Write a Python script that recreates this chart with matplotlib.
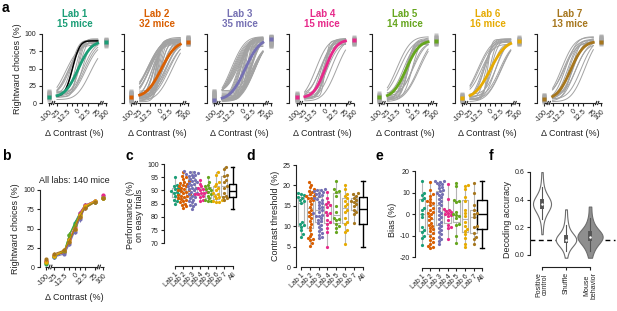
import numpy as np
import matplotlib
matplotlib.use('Agg')
import matplotlib.pyplot as plt
from math import erf

plt.rcParams['font.family'] = ['Liberation Sans', 'DejaVu Sans']
plt.rcParams['axes.linewidth'] = 0.8
plt.rcParams['xtick.major.width'] = 0.8
plt.rcParams['ytick.major.width'] = 0.8
plt.rcParams['xtick.major.size'] = 2.5
plt.rcParams['ytick.major.size'] = 2.5
plt.rcParams['xtick.labelsize'] = 5
plt.rcParams['ytick.labelsize'] = 5
plt.rcParams['axes.labelsize'] = 6.5
plt.rcParams['xtick.major.pad'] = 1.2
plt.rcParams['ytick.major.pad'] = 1.2
plt.rcParams['axes.unicode_minus'] = False
TXT = '#222222'
for k in ['text.color', 'axes.labelcolor', 'xtick.color', 'ytick.color', 'axes.edgecolor']:
    plt.rcParams[k] = TXT

# ---------------- data ----------------
lab_names = ['Lab 1', 'Lab 2', 'Lab 3', 'Lab 4', 'Lab 5', 'Lab 6', 'Lab 7']
n_mice = [15, 32, 35, 15, 14, 16, 13]
lab_colors = ['#1b9e77', '#d95f02', '#7570b3', '#e7298a', '#66a61e', '#e6ab02', '#a6761d']

# contrast threshold (%) per mouse (panel d, also slope of curves in a)
thr_lab1 = [10.2, 18.2, 18.0, 17.6, 17.2, 17.0, 16.5, 16.2, 15.8, 11.0, 10.5, 9.8, 9.0, 8.0, 7.3]
thr_lab2 = [20.8, 20.2, 19.5, 19.0, 18.7, 18.3, 18.0, 17.8, 17.5, 17.3, 17.0, 16.8, 16.5, 16.2, 15.5, 14.8,
            14.0, 13.5, 13.0, 12.5, 12.0, 11.3, 10.5, 9.8, 9.0, 8.2, 7.5, 7.0, 6.8, 6.5, 5.8, 5.2]
thr_lab3 = [19.0, 18.9, 18.8, 18.6, 18.4, 18.2, 18.0, 17.7, 17.4, 17.0, 16.7, 16.4, 16.0, 15.6, 15.2, 14.8,
            14.4, 14.0, 13.6, 13.2, 12.8, 12.5, 12.0, 11.6, 11.2, 10.8, 10.4, 9.9, 9.4, 8.8, 8.3, 7.9, 7.4, 7.0, 12.6]
thr_lab4 = [18.4, 17.0, 16.0, 15.5, 15.3, 14.8, 13.5, 13.2, 12.8, 11.5, 11.0, 10.5, 9.5, 8.5, 5.0]
thr_lab5 = [21.2, 19.0, 18.6, 18.5, 17.5, 15.0, 13.5, 12.0, 11.8, 11.5, 10.5, 10.0, 9.5, 8.6]
thr_lab6 = [20.0, 19.0, 18.0, 17.5, 16.8, 16.2, 15.5, 15.0, 14.0, 13.5, 12.0, 11.0, 10.5, 9.0, 8.5, 5.6]
thr_lab7 = [18.2, 17.8, 17.5, 17.0, 16.5, 16.2, 16.0, 15.5, 15.0, 14.0, 13.5, 13.0, 10.8]

# bias (%) per mouse (panel e)
bias_lab1 = [-6.0, 15.5, -14.5, 10.0, -11.0, 9.0, -10.0, 7.5, -8.5, 6.5, -7.5, 3.0, -1.5, 2.0, 0.0]
bias_lab2 = [15.0, -16.0, 11.0, -15.5, 9.5, -15.0, 8.5, -14.0, 7.0, -13.0, 6.0, -12.0, 5.5, -11.0, 5.0, -10.0,
             4.0, -9.0, 3.0, -8.0, 2.0, -7.0, 1.0, -6.5, 0.5, -5.5, 0.0, -5.0, -1.0, -4.0, -2.0, -3.0]
bias_lab3 = [15.5, -14.0, 15.2, -12.5, 15.0, -11.5, 14.5, -10.5, 14.0, -9.5, 13.5, -8.5, 12.5, -7.5, 12.0, -6.5,
             11.0, -5.5, 10.5, -4.5, 10.0, -3.5, 9.5, -2.5, 9.0, -1.5, 8.0, -0.5, 7.0, 0.5, 6.0, 1.5, 5.0, 3.0, 4.0]
bias_lab4 = [14.0, -11.5, 7.0, -6.5, 2.5, -6.0, 2.0, -5.0, 1.5, -3.0, 1.0, -1.0, 0.5, -0.5, 0.0]
bias_lab5 = [14.5, -13.5, 13.0, -10.0, 6.5, -5.0, 6.0, -4.5, 5.5, -2.0, 1.0, -1.0, 0.0, -0.5]
bias_lab6 = [13.5, -15.5, 13.0, -14.0, 11.5, -11.0, 8.0, -9.5, 6.0, -8.0, 2.0, -7.0, 0.5, -5.5, -1.0, -3.5]
bias_lab7 = [14.5, -14.0, 10.0, -11.5, 4.0, -10.5, 2.0, -9.0, 0.5, -6.0, 0.0, -5.5, -1.5]

# rightward choices (%) at -100% and +100% contrast per mouse
low_lab1 = [10, 5, 7, 8, 9, 10, 11, 12, 12, 13, 14, 15, 16, 17, 9]
low_lab2 = [3, 5, 6, 8, 10, 12, 14, 16, 4, 7, 9, 11, 13, 15, 17, 6, 8, 10, 12, 5, 7, 9, 11, 13, 2, 4, 6, 8, 10, 12, 14, 9]
low_lab3 = [2, 3, 4, 5, 6, 7, 8, 9, 10, 11, 12, 13, 14, 15, 16, 17, 18, 3, 4, 5, 6, 7, 8, 9, 10, 11, 4, 5, 6, 7, 8, 5, 6, 7, 5]
low_lab4 = [3, 5, 7, 9, 11, 13, 14, 4, 6, 8, 10, 12, 6, 8, 9]
low_lab5 = [2, 4, 6, 8, 10, 12, 15, 3, 5, 7, 9, 11, 6, 8]
low_lab6 = [2, 4, 6, 8, 10, 12, 13, 3, 5, 7, 9, 11, 6, 8, 7, 5]
low_lab7 = [2, 4, 6, 8, 10, 12, 3, 5, 7, 9, 11, 5, 6]
high_lab1 = [90, 82, 84, 86, 87, 88, 88, 89, 89, 90, 91, 92, 92, 93, 90]
high_lab2 = [95, 93, 91, 89, 87, 85, 94, 92, 90, 88, 86, 95, 93, 91, 89, 87, 94, 92, 90, 88, 86, 93, 91, 89, 87, 92, 90, 88, 91, 89, 90, 90]
high_lab3 = [97, 96, 95, 94, 93, 92, 91, 90, 89, 88, 87, 86, 85, 84, 83, 82, 96, 95, 94, 93, 92, 91, 90, 89, 88, 95, 94, 93, 92, 91, 94, 93, 92, 93, 93]
high_lab4 = [95, 93, 91, 89, 87, 85, 94, 92, 90, 88, 86, 93, 91, 89, 90]
high_lab5 = [98, 96, 94, 92, 90, 88, 86, 85, 95, 93, 91, 89, 87, 90]
high_lab6 = [95, 93, 91, 89, 87, 85, 94, 92, 90, 88, 86, 93, 91, 89, 90, 92]
high_lab7 = [97, 95, 93, 91, 89, 87, 85, 96, 94, 92, 90, 88, 91]

# lab-level (pooled) fit parameters: bias, threshold, low, high
labfit_bias = [1.0, 1.5, 3.0, 0.0, -2.0, 0.0, -3.0]
labfit_thr = [18.0, 20.0, 20.0, 16.0, 18.0, 21.0, 18.0]
labfit_low = [9, 9, 5, 8, 8, 7, 6]
labfit_high = [89, 89, 93, 91, 90, 90, 89]

# performance on easy trials (%) per mouse (panel c)
perf_lab1 = [95.0, 92.0, 91.5, 91.0, 90.5, 90.0, 89.8, 89.5, 89.0, 88.5, 88.0, 87.0, 86.5, 86.0, 85.0]
perf_lab2 = [97.0, 95.5, 95.0, 94.5, 93.5, 93.0, 92.8, 92.5, 92.0, 91.5, 91.0, 90.5, 90.0, 89.8, 89.5, 89.0,
             88.5, 88.2, 88.0, 87.5, 87.0, 86.8, 86.5, 86.0, 85.5, 85.0, 84.5, 84.0, 83.5, 91.8, 90.2, 87.8]
perf_lab3 = [97.2, 97.0, 96.8, 96.5, 96.3, 96.0, 95.8, 95.5, 95.0, 94.5, 94.0, 93.5, 93.0, 92.5, 92.0, 91.5,
             91.0, 90.5, 90.0, 89.5, 89.0, 88.5, 88.0, 87.5, 87.0, 86.5, 86.0, 85.5, 85.0, 84.5, 84.0, 83.0, 90.8, 92.8, 88.8]
perf_lab4 = [94.0, 92.5, 91.5, 91.0, 90.5, 90.0, 89.5, 89.2, 89.0, 88.8, 88.5, 88.0, 87.5, 86.5, 86.0]
perf_lab5 = [95.0, 93.0, 92.0, 91.5, 91.0, 90.5, 90.0, 89.5, 88.5, 88.0, 87.0, 86.5, 86.0, 86.0]
perf_lab6 = [97.0, 96.0, 93.0, 92.5, 91.5, 91.0, 90.0, 89.0, 88.5, 88.0, 87.5, 87.0, 86.5, 86.0, 85.8, 85.5]
perf_lab7 = [99.0, 98.0, 96.0, 95.5, 94.0, 93.0, 91.5, 91.0, 89.0, 88.0, 87.5, 87.0, 86.5]

thr_all = [thr_lab1, thr_lab2, thr_lab3, thr_lab4, thr_lab5, thr_lab6, thr_lab7]
bias_all = [bias_lab1, bias_lab2, bias_lab3, bias_lab4, bias_lab5, bias_lab6, bias_lab7]
low_all = [low_lab1, low_lab2, low_lab3, low_lab4, low_lab5, low_lab6, low_lab7]
high_all = [high_lab1, high_lab2, high_lab3, high_lab4, high_lab5, high_lab6, high_lab7]
perf_all = [perf_lab1, perf_lab2, perf_lab3, perf_lab4, perf_lab5, perf_lab6, perf_lab7]
example_mouse_lab1 = 0

# panel b: mean rightward choices per lab at each contrast
contrasts = [-100, -25, -12.5, -6.25, 0, 6.25, 12.5, 25, 100]
b_lab1 = [4, 13, 20, 42, 57, 70, 80, 86, 89]
b_lab2 = [8, 14, 19, 33, 48, 65, 78, 85, 90]
b_lab3 = [6, 13, 17, 30, 46, 62, 76, 85, 92]
b_lab4 = [8, 15, 21, 36, 52, 70, 80, 86, 93]
b_lab5 = [5, 14, 21, 42, 55, 68, 78, 84, 89]
b_lab6 = [7, 14, 22, 35, 50, 67, 79, 86, 90]
b_lab7 = [10, 17, 22, 33, 50, 65, 76, 84, 90]
b_all = [b_lab1, b_lab2, b_lab3, b_lab4, b_lab5, b_lab6, b_lab7]
b_sem = [2.0, 2.0, 2.0, 3.0, 3.5, 3.0, 2.5, 2.0, 2.0]

# panel f: decoding accuracy
f_names = ['Positive\ncontrol', 'Shuffle', 'Mouse\nbehavior']
dec_positive = [0.15, 0.22, 0.26, 0.28, 0.30, 0.31, 0.32, 0.33, 0.34, 0.34, 0.35, 0.35, 0.36, 0.36, 0.37, 0.37,
                0.37, 0.38, 0.38, 0.39, 0.39, 0.40, 0.40, 0.41, 0.42, 0.43, 0.44, 0.46, 0.49, 0.53, 0.60]
dec_shuffle = [-0.02, 0.03, 0.05, 0.07, 0.08, 0.09, 0.09, 0.10, 0.10, 0.11, 0.11, 0.11, 0.12, 0.12, 0.13, 0.13,
               0.14, 0.15, 0.17, 0.19, 0.22, 0.26, 0.33]
dec_mouse = [-0.02, 0.03, 0.05, 0.07, 0.09, 0.10, 0.11, 0.12, 0.12, 0.13, 0.13, 0.14, 0.14, 0.15, 0.16, 0.17,
             0.18, 0.20, 0.23, 0.27, 0.35]
chance_level = 1 / 9

# ---------------- figure ----------------
W, H = 617, 311
fig = plt.figure(figsize=(W / 100, H / 100), dpi=100)


def add_ax(l, t, r, b):
    return fig.add_axes([l / W, 1 - b / H, (r - l) / W, (b - t) / H])


def letter(x, y, s):
    fig.text(x / W, 1 - y / H, s, fontsize=10, fontweight='bold', va='top', ha='left', color='black')


erfv = np.vectorize(erf)
X100 = 35.0


def cpos(c):
    c = np.asarray(c, float)
    return np.where(np.abs(c) > 30, np.sign(c) * X100, c)


def psy(x, bias, thr, low, high):
    return low + (high - low) * 0.5 * (1 + erfv((x - bias) / thr))


def broken_xaxis(ax, y0, yspan):
    kw = dict(color=TXT, lw=0.8, clip_on=False, solid_capstyle='butt')
    for a, b in [(-36, -31), (-28.5, 28.5), (31, 36)]:
        ax.plot([a, b], [y0, y0], **kw)
    for xb in [-31, -28.5, 28.5, 31]:
        ax.plot([xb - 1.0, xb + 1.0], [y0 - yspan, y0 + yspan], **kw)


xticks_a = cpos([-100, -25, -12.5, -6.25, 0, 6.25, 12.5, 25, 100])
xtlabels_a = ['-100', '-25', '-12.5', '', '0', '', '12.5', '25', '100']
xs = np.linspace(-25, 25, 121)

letter(2, 1, 'a')
for i in range(7):
    l = 41.5 + i * 82.6
    ax = add_ax(l, 34, l + 66, 103)
    ax.set_xlim(-44, 37)
    ax.set_ylim(0, 100)
    for s in ['top', 'right', 'bottom']:
        ax.spines[s].set_visible(False)
    for j in range(n_mice[i]):
        ax.plot(xs, psy(xs, bias_all[i][j], thr_all[i][j], low_all[i][j], high_all[i][j]),
                color='#a3a3a3', lw=0.7, zorder=2, clip_on=False)
        ax.plot(cpos([-100, 100]), [low_all[i][j], high_all[i][j]], ls='none', marker='s', ms=2.6,
                mfc='#a8a8a8', mec='none', alpha=0.7, zorder=2, clip_on=False)
    if i == 0:
        j = example_mouse_lab1
        ax.plot(xs, psy(xs, bias_all[i][j], thr_all[i][j], low_all[i][j], high_all[i][j]),
                color='black', lw=1.1, zorder=3)
    ax.plot(xs, psy(xs, labfit_bias[i], labfit_thr[i], labfit_low[i], labfit_high[i]),
            color=lab_colors[i], lw=2.0, zorder=4, clip_on=False)
    ax.plot(cpos([-100, 100]), [labfit_low[i], labfit_high[i]], ls='none', marker='s', ms=3.2,
            mfc=lab_colors[i], mec='none', zorder=5, clip_on=False)
    broken_xaxis(ax, 0, 3)
    ax.set_xticks(xticks_a)
    ax.set_xticklabels(xtlabels_a, rotation=45, ha='right', rotation_mode='anchor')
    ax.set_yticks([0, 25, 50, 75, 100])
    if i == 0:
        ax.set_ylabel('Rightward choices (%)', labelpad=2)
    else:
        ax.set_yticklabels([])
    ax.set_xlabel('\u0394 Contrast (%)', labelpad=3)
    ax.set_title(f'{lab_names[i]}\n{n_mice[i]} mice', color=lab_colors[i], fontsize=7,
                 fontweight='bold', pad=5, linespacing=1.05)

# ---------------- panel b ----------------
letter(2, 149, 'b')
axb = add_ax(40, 190, 108, 267)
axb.set_xlim(-42.4, 41)
axb.set_ylim(0, 100)
for s in ['top', 'right', 'bottom']:
    axb.spines[s].set_visible(False)
cp = cpos(contrasts)
for i in range(7):
    v = np.array(b_all[i], float)
    axb.plot(cp[1:-1], v[1:-1], color=lab_colors[i], lw=0.8, zorder=3 + i)
    axb.errorbar(cp, v, yerr=b_sem, fmt='o', ms=3.0, color=lab_colors[i], mec='none',
                 elinewidth=0.7, capsize=0, zorder=3 + i, clip_on=False)
broken_xaxis(axb, 0, 3)
axb.set_xticks(xticks_a)
axb.set_xticklabels(xtlabels_a, rotation=45, ha='right', rotation_mode='anchor')
axb.set_yticks([0, 25, 50, 75, 100])
axb.set_ylabel('Rightward choices (%)', labelpad=2)
axb.set_xlabel('\u0394 Contrast (%)', labelpad=3)
axb.set_title('All labs: %d mice' % sum(n_mice), fontsize=6.5, pad=5)


# ---------------- swarm helpers ----------------
def swarm_x(yvals, ypx, xpx, d):
    ys = np.asarray(yvals, float)
    order = np.argsort(ys)
    placed = []
    offs = np.zeros(len(ys))
    cands = [0.0]
    for k in range(1, 60):
        cands += [k * 0.25 * d, -k * 0.25 * d]
    for idx in order:
        yp = ys[idx] * ypx
        for c in cands:
            ok = True
            for (px, py) in placed:
                if (px - c) ** 2 + (py - yp) ** 2 < d * d * 0.98:
                    ok = False
                    break
            if ok:
                break
        placed.append((c, yp))
        offs[idx] = c / xpx
    return offs


def swarm_panel(ax, data, ylim, yb, xlim, px_box, tick_names):
    l, b, w, h = ax.get_position().bounds
    wpx, hpx = w * W, h * H
    ypx = hpx / (ylim[1] - ylim[0])
    xpx = wpx / (xlim[1] - xlim[0])
    ax.set_xlim(*xlim)
    ax.set_ylim(*ylim)
    ax.boxplot(data, positions=range(7), widths=0.75, whis=(0, 100), showfliers=False,
               boxprops=dict(color='#b5b5b5', lw=0.8), whiskerprops=dict(color='#b5b5b5', lw=0.8),
               capprops=dict(color='#b5b5b5', lw=0.0), medianprops=dict(color='#b5b5b5', lw=0.8),
               manage_ticks=False, zorder=1)
    for i in range(7):
        off = swarm_x(data[i], ypx, xpx, 3.0)
        ax.plot(i + off, data[i], ls='none', marker='o', ms=2.3, mfc=lab_colors[i], mec='none', zorder=3,
                clip_on=False)
    allv = np.concatenate([np.asarray(d, float) for d in data])
    ax.boxplot([allv], positions=[7], widths=px_box, whis=(0, 100), showfliers=False,
               boxprops=dict(color='black', lw=1.0), whiskerprops=dict(color='black', lw=1.0),
               capprops=dict(color='black', lw=1.0), medianprops=dict(color='black', lw=1.0),
               manage_ticks=False, zorder=2)
    for s in ['top', 'right']:
        ax.spines[s].set_visible(False)
    ax.spines['left'].set_bounds(*yb)
    ax.spines['bottom'].set_bounds(0, 7)
    ax.set_xticks(range(8))
    ax.set_xticklabels(tick_names, rotation=45, ha='right', rotation_mode='anchor')


tick_names = lab_names + ['All']

# ---------------- panel c ----------------
letter(125, 149, 'c')
axc = add_ax(164, 164, 240, 266)
swarm_panel(axc, perf_all, (61.4, 100), (70, 100), (-1.35, 7.9), 0.9, tick_names)
axc.set_yticks([70, 75, 80, 85, 90, 95, 100])
axc.set_ylabel('Performance (%)\non easy trials', labelpad=2, linespacing=1.1)

# ---------------- panel d ----------------
letter(246, 149, 'd')
axd = add_ax(296, 165, 368, 267)
swarm_panel(axd, thr_all, (0, 25), (0, 25), (-0.57, 7.6), 0.9, tick_names)
axd.set_yticks([0, 5, 10, 15, 20, 25])
axd.set_ylabel('Contrast threshold (%)', labelpad=2)

# ---------------- panel e ----------------
letter(376, 149, 'e')
axe = add_ax(415, 171, 489, 268)
swarm_panel(axe, bias_all, (-25.1, 20), (-20, 20), (-0.8, 7.8), 1.1, tick_names)
axe.set_yticks([-20, -10, 0, 10, 20])
axe.set_ylabel('Bias (%)', labelpad=2)

# ---------------- panel f ----------------
letter(489, 149, 'f')
axf = add_ax(530, 172, 615, 267)
axf.set_xlim(-0.5, 3.04)
axf.set_ylim(-0.087, 0.6)
f_data = [dec_positive, dec_shuffle, dec_mouse]
f_widths = [0.75, 0.85, 1.05]
f_faces = ['white', 'white', '#8e8e8e']
for k in range(3):
    vp = axf.violinplot([f_data[k]], positions=[k], widths=f_widths[k], showextrema=False,
                        bw_method=0.5)
    for body in vp['bodies']:
        body.set_facecolor(f_faces[k])
        body.set_edgecolor('#6e6e6e')
        body.set_linewidth(0.8)
        body.set_alpha(1)
        body.set_zorder(2)
    q1, med, q3 = np.percentile(f_data[k], [25, 50, 75])
    iqr = q3 - q1
    arr = np.asarray(f_data[k])
    lo = arr[arr >= q1 - 1.5 * iqr].min()
    hi = arr[arr <= q3 + 1.5 * iqr].max()
    axf.plot([k, k], [lo, hi], color='#555555', lw=0.8, zorder=3)
    axf.plot([k, k], [q1, q3], color='#555555', lw=2.8, zorder=3, solid_capstyle='butt')
    axf.plot([k], [med], 'o', ms=1.8, mfc='white', mec='none', zorder=4)
axf.axhline(chance_level, color='black', lw=1.0, ls=(0, (3.5, 2.5)), zorder=1, clip_on=False)
for s in ['top', 'right']:
    axf.spines[s].set_visible(False)
axf.spines['left'].set_bounds(0, 0.6)
axf.spines['bottom'].set_bounds(0, 2)
axf.set_yticks([0, 0.2, 0.4, 0.6])
axf.set_yticklabels(['0.0', '0.2', '0.4', '0.6'])
axf.set_xticks([0, 1, 2])
axf.set_xticklabels(f_names, rotation=90, ha='center', va='top', linespacing=1.0)
axf.set_ylabel('Decoding accuracy', labelpad=2)

fig.savefig('out.png', dpi=100)
